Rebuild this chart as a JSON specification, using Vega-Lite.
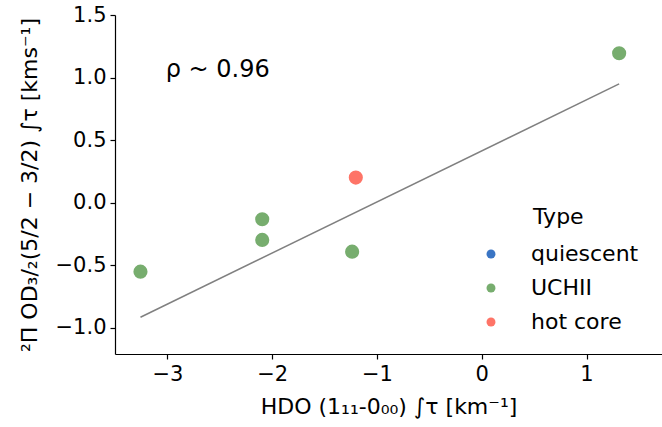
{
  "$schema": "https://vega.github.io/schema/vega-lite/v6.json",
  "autosize": "none",
  "width": 547,
  "height": 339,
  "padding": {"left": 115, "top": 15, "right": 0, "bottom": 73},
  "config": {
    "view": {"stroke": null},
    "font": "DejaVu Sans",
    "axis": {
      "domainColor": "black", "domainWidth": 1.2, "tickColor": "black", "tickWidth": 1.2,
      "tickSize": 5, "labelFontSize": 21, "labelColor": "black", "titleFontSize": 22,
      "titleFontWeight": "normal", "titleColor": "black", "grid": false, "labelPadding": 4
    }
  },
  "datasets": {
    "pts": [
      {"hdo": -3.257, "od": -0.552, "Type": "UCHII"},
      {"hdo": -2.095, "od": -0.133, "Type": "UCHII"},
      {"hdo": -2.095, "od": -0.298, "Type": "UCHII"},
      {"hdo": -1.237, "od": -0.392, "Type": "UCHII"},
      {"hdo": -1.202, "od": 0.2, "Type": "hot core"},
      {"hdo": 1.311, "od": 1.194, "Type": "UCHII"}
    ],
    "fit": [
      {"hdo": -3.257, "od": -0.916},
      {"hdo": 1.311, "od": 0.949}
    ],
    "notes": [
      {"hdo": -2.52, "od": 1.06, "label": "ρ ~ 0.96"}
    ],
    "legtitle": [
      {"hdo": 0.49, "od": -0.114, "label": "Type"}
    ]
  },
  "layer": [
    {
      "mark": {"type": "rule", "color": "black", "strokeWidth": 1.2},
      "encoding": {"y": {"datum": 1.5, "type": "quantitative"}}
    },
    {
      "data": {"name": "fit"},
      "mark": {"type": "line", "color": "#808080", "strokeWidth": 1.5},
      "encoding": {
        "x": {"field": "hdo", "type": "quantitative"},
        "y": {"field": "od", "type": "quantitative"}
      }
    },
    {
      "data": {"name": "pts"},
      "mark": {"type": "circle", "size": 200, "opacity": 1},
      "encoding": {
        "x": {
          "field": "hdo", "type": "quantitative",
          "scale": {"domain": [-3.5, 1.72], "nice": false, "zero": false},
          "axis": {"values": [-3, -2, -1, 0, 1], "format": "d", "title": "HDO (1₁₁-0₀₀) ∫τ [km⁻¹]", "titlePadding": 12}
        },
        "y": {
          "field": "od", "type": "quantitative",
          "scale": {"domain": [-1.21, 1.5], "nice": false, "zero": false},
          "axis": {"values": [-1, -0.5, 0, 0.5, 1, 1.5], "format": ".1f", "title": "²Π OD₃/₂(5/2 − 3/2) ∫τ [kms⁻¹]", "titlePadding": 14}
        },
        "color": {
          "field": "Type", "type": "nominal",
          "scale": {"domain": ["quiescent", "UCHII", "hot core"], "range": ["#3a75c4", "#77ad6e", "#fe7467"]},
          "legend": {
            "title": null, "orient": "none", "legendX": 365, "legendY": 228,
            "symbolType": "circle", "symbolSize": 80, "symbolStrokeWidth": 0, "symbolOpacity": 1,
            "labelFontSize": 22, "labelColor": "black", "labelOffset": 29, "rowPadding": 12,
            "padding": 0, "values": ["quiescent", "UCHII", "hot core"]
          }
        }
      }
    },
    {
      "data": {"name": "notes"},
      "mark": {"type": "text", "fontSize": 24, "align": "center", "baseline": "middle", "color": "black"},
      "encoding": {
        "x": {"field": "hdo", "type": "quantitative"},
        "y": {"field": "od", "type": "quantitative"},
        "text": {"field": "label"}
      }
    },
    {
      "data": {"name": "legtitle"},
      "mark": {"type": "text", "fontSize": 22, "align": "left", "baseline": "middle", "color": "black"},
      "encoding": {
        "x": {"field": "hdo", "type": "quantitative"},
        "y": {"field": "od", "type": "quantitative"},
        "text": {"field": "label"}
      }
    }
  ]
}
